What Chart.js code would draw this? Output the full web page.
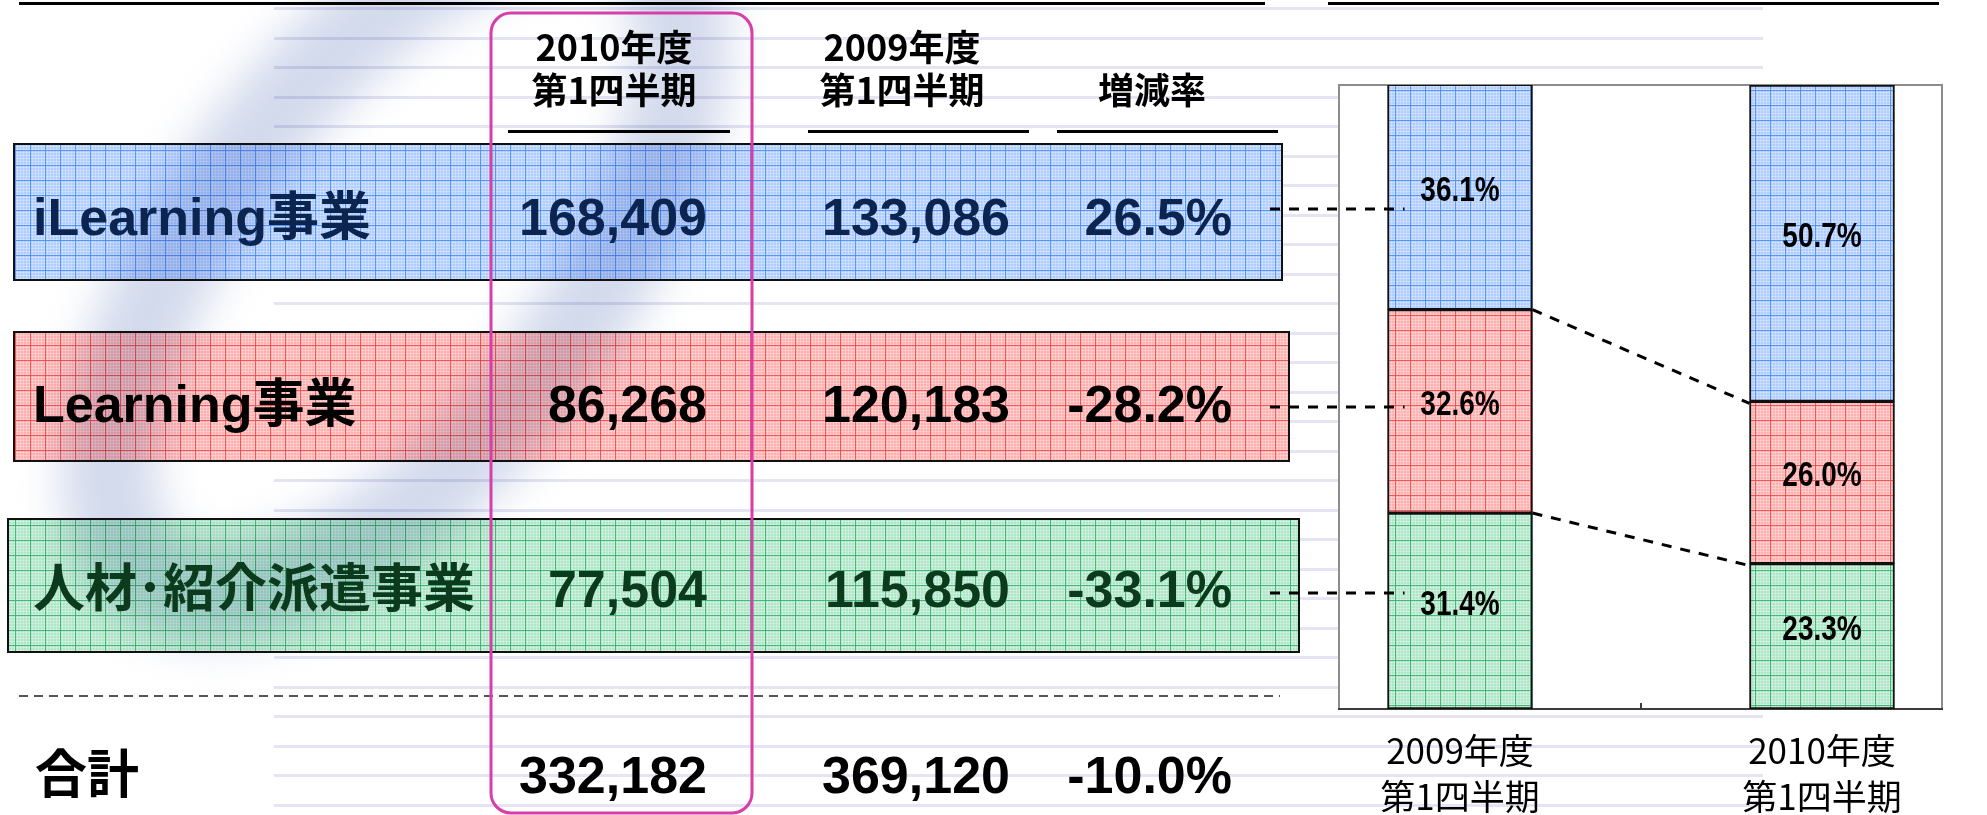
<!DOCTYPE html>
<html>
<head>
<meta charset="utf-8">
<script src="https://cdn.jsdelivr.net/npm/chart.js@4.4.1/dist/chart.umd.min.js"></script>
<style>
  html, body { margin: 0; padding: 0; background: #fff; }
  #wrap { width: 1987px; height: 815px; position: relative; }
</style>
</head>
<body>
<div id="wrap"><canvas id="salesChart"></canvas></div>
<script>
// data
const segments = ['iLearning事業', 'Learning事業', '人材･紹介派遣事業'];
const sales2010 = [168409, 86268, 77504];
const sales2009 = [133086, 120183, 115850];
const changeRate = [26.5, -28.2, -33.1];
const totals = [332182, 369120];
const totalChange = -10.0;
const share2009 = [36.1, 32.6, 31.4];
const share2010 = [50.7, 26.0, 23.3];
const periods = [['2009年度', '第1四半期'], ['2010年度', '第1四半期']];
const colHeads = [['2010年度', '第1四半期'], ['2009年度', '第1四半期'], ['増減率']];

const JP = "'Noto Sans CJK JP'";
const ROW_FONT = "bold 52px 'Liberation Sans', " + JP + ", sans-serif";

const fmt = n => n.toLocaleString('en-US');
const pct = n => n.toFixed(1) + '%';

// graph paper fill
function makeGrid(ctx, base, major) {
    const c = document.createElement('canvas');
    c.width = 15; c.height = 15;
    const g = c.getContext('2d');
    g.fillStyle = base;
    g.fillRect(0, 0, 15, 15);
    g.fillStyle = 'rgba(255,255,255,0.28)';
    for (let i = 2; i < 15; i += 3) {
        g.fillRect(i, 0, 1, 15);
        g.fillRect(0, i, 15, 1);
    }
    g.fillStyle = major;
    g.fillRect(0, 0, 1, 15);
    g.fillRect(0, 0, 15, 1);
    return ctx.createPattern(c, 'repeat');
}

function dashLine(ctx, x1, y1, x2, y2) {
    ctx.save();
    ctx.strokeStyle = '#000';
    ctx.lineWidth = 3;
    ctx.setLineDash([10, 9]);
    ctx.beginPath();
    ctx.moveTo(x1, y1);
    ctx.lineTo(x2, y2);
    ctx.stroke();
    ctx.restore();
}

// narrow text, squeezed horizontally
function narrowText(ctx, text, x, y, sx) {
    ctx.save();
    ctx.translate(x, y);
    ctx.scale(sx, 1);
    ctx.fillText(text, 0, 0);
    ctx.restore();
}

function build() {
    const canvas = document.getElementById('salesChart');
    const ctx0 = canvas.getContext('2d');
    const blue = makeGrid(ctx0, 'rgb(176,205,255)', 'rgba(70,140,245,0.85)');
    const red = makeGrid(ctx0, 'rgb(255,176,176)', 'rgba(240,70,70,0.85)');
    const green = makeGrid(ctx0, 'rgb(176,230,200)', 'rgba(50,175,105,0.85)');
    const fills = [blue, red, green];
    const textColors = ['#0c2450', '#000000', '#0b3a1c'];

    const rowBoxes = [
        { x: 14, y: 144, w: 1268, h: 136, base: 235 },
        { x: 14, y: 332, w: 1275, h: 129, base: 422 },
        { x: 8, y: 519, w: 1291, h: 133, base: 607 }
    ];

    const slidePlugin = {
        id: 'slide',
        beforeDraw(chart) {
            const ctx = chart.ctx;
            ctx.save();
            ctx.fillStyle = '#fff';
            ctx.fillRect(0, 0, chart.width, chart.height);

            // faint ruled lines
            ctx.fillStyle = 'rgb(228,228,242)';
            for (let y = 8; y < 815; y += 29.5) {
                ctx.fillRect(274, Math.round(y) - 1, 1489, 3);
            }

            // top rules
            ctx.fillStyle = '#000';
            ctx.fillRect(19, 2, 1246, 3);
            ctx.fillRect(1328, 2, 611, 3);

            // table rows
            rowBoxes.forEach((r, i) => {
                ctx.fillStyle = fills[i];
                ctx.fillRect(r.x, r.y, r.w, r.h);
            });

            // background swoosh
            ctx.save();
            ctx.globalCompositeOperation = 'multiply';
            ctx.filter = 'blur(22px)';
            ctx.strokeStyle = 'rgba(196,206,230,0.75)';
            ctx.lineWidth = 95;
            ctx.beginPath();
            ctx.ellipse(395, 260, 400, 185, -52 * Math.PI / 180, 0, Math.PI * 2);
            ctx.stroke();
            ctx.restore();

            rowBoxes.forEach(r => {
                ctx.strokeStyle = '#111';
                ctx.lineWidth = 2;
                ctx.strokeRect(r.x, r.y, r.w, r.h);
            });

            // headers
            ctx.fillStyle = '#000';
            ctx.textAlign = 'center';
            ctx.textBaseline = 'middle';
            ctx.font = 'bold 36px ' + JP;
            const headX = [614, 902, 1152];
            colHeads.forEach((lines, i) => {
                if (lines.length === 2) {
                    ctx.fillText(lines[0], headX[i], 47);
                    ctx.fillText(lines[1], headX[i], 90);
                } else {
                    ctx.fillText(lines[0], headX[i], 90);
                }
            });
            ctx.fillRect(508, 130, 222, 3);
            ctx.fillRect(808, 130, 221, 3);
            ctx.fillRect(1057, 130, 221, 3);

            // row texts
            ctx.font = ROW_FONT;
            ctx.textBaseline = 'alphabetic';
            segments.forEach((name, i) => {
                const b = rowBoxes[i].base;
                ctx.fillStyle = textColors[i];
                ctx.textAlign = 'left';
                ctx.fillText(name, 33, b);
                ctx.textAlign = 'right';
                ctx.fillText(fmt(sales2010[i]), 707, b);
                ctx.fillText(fmt(sales2009[i]), 1010, b);
                ctx.fillText(pct(changeRate[i]), 1232, b);
            });

            // total row
            ctx.fillStyle = '#000';
            ctx.textAlign = 'left';
            ctx.fillText('合計', 35, 793);
            ctx.textAlign = 'right';
            ctx.fillText(fmt(totals[0]), 707, 793);
            ctx.fillText(fmt(totals[1]), 1010, 793);
            ctx.fillText(pct(totalChange), 1232, 793);

            ctx.save();
            ctx.strokeStyle = '#555';
            ctx.lineWidth = 2;
            ctx.setLineDash([9, 6]);
            ctx.beginPath();
            ctx.moveTo(19, 696);
            ctx.lineTo(1280, 696);
            ctx.stroke();
            ctx.restore();

            // highlight frame on 2010 column
            ctx.strokeStyle = 'rgb(214,62,170)';
            ctx.lineWidth = 3;
            ctx.beginPath();
            ctx.roundRect(491, 13, 261, 800, 20);
            ctx.stroke();

            // chart frame
            const a = chart.chartArea;
            ctx.fillStyle = '#fff';
            ctx.fillRect(a.left, a.top, a.right - a.left, a.bottom - a.top);
            ctx.strokeStyle = '#8c8c8c';
            ctx.lineWidth = 2;
            ctx.strokeRect(a.left, a.top, a.right - a.left, a.bottom - a.top);
            ctx.restore();
        },
        afterDatasetsDraw(chart) {
            const ctx = chart.ctx;
            const n = chart.data.datasets.length;
            // percentage labels
            ctx.save();
            ctx.fillStyle = '#000';
            ctx.font = "bold 35px 'Liberation Sans', sans-serif";
            ctx.textAlign = 'center';
            ctx.textBaseline = 'alphabetic';
            chart.data.datasets.forEach((ds, d) => {
                chart.getDatasetMeta(d).data.forEach((el, i) => {
                    const mid = (el.y + el.base) / 2;
                    narrowText(ctx, pct(ds.data[i].y), el.x, mid + 3.5, 0.8);
                });
            });
            ctx.restore();

            // lines between the two bars at segment boundaries
            for (let d = 0; d < n - 1; d++) {
                const els = chart.getDatasetMeta(d).data;
                dashLine(ctx, els[0].x + els[0].width / 2, els[0].y, els[1].x - els[1].width / 2, els[1].y + 2);
            }

            // lines from the table rows to the 2009 bar
            const bar = chart.getDatasetMeta(0).data[0];
            const endX = bar.x - bar.width / 2 + 17;
            [209, 407, 593].forEach(y => dashLine(ctx, 1270, y, endX, y));
        },
        afterDraw(chart) {
            const ctx = chart.ctx;
            const x = Math.round(chart.scales.x.getPixelForValue(0.5));
            ctx.fillStyle = '#3c3c3c';
            ctx.fillRect(x - 1, chart.chartArea.bottom - 6, 2, 6);
        }
    };

    // stack from the bottom: last segment first
    const order = [2, 1, 0];
    const datasets = order.map(i => ({
        label: segments[i],
        data: [{ x: 0, y: share2009[i] }, { x: 1, y: share2010[i] }],
        backgroundColor: fills[i],
        borderColor: '#111',
        borderWidth: 2,
        borderSkipped: false,
        barThickness: 145
    }));

    new Chart(canvas, {
        type: 'bar',
        data: { datasets: datasets },
        options: {
            responsive: true,
            maintainAspectRatio: false,
            animation: false,
            layout: { padding: { left: 1339, right: 45, top: 85, bottom: 0 } },
            plugins: {
                legend: { display: false },
                tooltip: { enabled: false }
            },
            scales: {
                x: {
                    type: 'linear',
                    stacked: true,
                    offset: false,
                    min: -0.3343,
                    max: 1.3315,
                    grid: { display: false },
                    border: { display: true, color: '#3c3c3c', width: 2 },
                    afterBuildTicks: s => { s.ticks = periods.map((p, i) => ({ value: i })); },
                    afterFit: s => { s.height = 106; },
                    ticks: {
                        autoSkip: false,
                        maxRotation: 0,
                        padding: 11,
                        color: '#000',
                        font: { family: JP, size: 35, lineHeight: 1.3 },
                        callback: v => periods[v]
                    }
                },
                y: {
                    stacked: true,
                    display: false,
                    min: 0,
                    max: 100
                }
            }
        },
        plugins: [slidePlugin]
    });
}

Promise.all([
    document.fonts.load(ROW_FONT, 'iLearning事業'),
    document.fonts.load('bold 36px ' + JP, '年度'),
    document.fonts.load('35px ' + JP, '年度')
]).catch(() => {}).then(build);
</script>
</body>
</html>
